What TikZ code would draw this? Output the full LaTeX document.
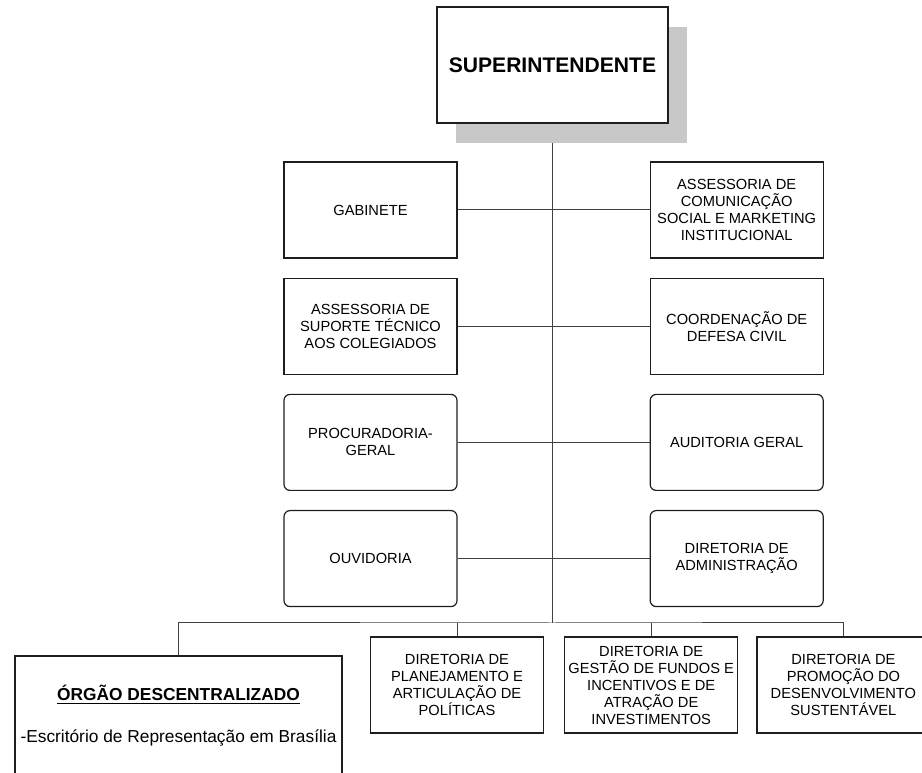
\documentclass[tikz,border=0pt]{standalone}
\usepackage{fontspec}
\setmainfont{Liberation Sans}
\usetikzlibrary{positioning, shadows, backgrounds}

\definecolor{boxline}{HTML}{1E1E1E}
\definecolor{linkline}{HTML}{404040}
\definecolor{shadowgray}{HTML}{C8C8C8}

\begin{document}
\begin{tikzpicture}
   [
      x=0.75pt, y=-0.75pt,
      % Style for the ordinary unit boxes: square corners, thin dark border
      unit/.style={rectangle, draw=boxline, line width=0.9pt, fill=white, minimum width=129.75pt, minimum height=72pt, inner sep=2pt, align=center, font=\fontsize{11}{12.75}\selectfont},
      % Same box, but with rounded corners
      unit round/.style={unit, rounded corners=4.5pt},
      % Style for the head box with its grey shadow
      head unit/.style={unit, minimum width=173.25pt, minimum height=87pt, font=\fontsize{15.8}{18}\selectfont\bfseries, drop shadow={shadow xshift=14.25pt, shadow yshift=-15pt, fill=shadowgray, opacity=1}},
      % Style for the decentralised office box
      office unit/.style={unit, minimum width=245.25pt, minimum height=90pt, font=\fontsize{13}{15.6}\selectfont},
      % Style for the connecting lines
      link/.style={draw=linkline, line width=0.75pt}
   ]

    \useasboundingbox (0,0) rectangle (922,773);
    \clip (0,0) rectangle (922,773);

    % =======================================================
    % Head of the chart
    % =======================================================
    \node[head unit] (sup) at (552.5,65) {SUPERINTENDENTE};

    % =======================================================
    % Advisory units, two columns
    % =======================================================
    \node[unit] (gab) at (370.5,210) {GABINETE};
    \node[unit, right=144pt of gab] (ascom) {ASSESSORIA DE\\COMUNICAÇÃO\\SOCIAL E MARKETING\\INSTITUCIONAL};

    \node[unit, below=14.25pt of gab] (astec) {ASSESSORIA DE\\SUPORTE TÉCNICO\\AOS COLEGIADOS};
    \node[unit, right=144pt of astec] (codec) {COORDENAÇÃO DE\\DEFESA CIVIL};

    \node[unit round, below=14.25pt of astec] (proc) {PROCURADORIA-\\GERAL};
    \node[unit round, right=144pt of proc] (audit) {AUDITORIA GERAL};

    \node[unit round, below=14.25pt of proc] (ouv) {OUVIDORIA};
    \node[unit round, right=144pt of ouv] (dirad) {DIRETORIA DE\\ADMINISTRAÇÃO};

    % =======================================================
    % Bottom row: office and directorates
    % =======================================================
    \node[office unit] (office) at (178.5,716) {\underline{\textbf{ÓRGÃO DESCENTRALIZADO}}\\[15.9pt]-Escritório de Representação em Brasília};
    \node[unit] (plan) at (457,685) {DIRETORIA DE\\PLANEJAMENTO E\\ARTICULAÇÃO DE\\POLÍTICAS};
    \node[unit, right=15pt of plan] (fund) {DIRETORIA DE\\GESTÃO DE FUNDOS E\\INCENTIVOS E DE\\ATRAÇÃO DE\\INVESTIMENTOS};
    \node[unit, right=13.5pt of fund] (promo) {DIRETORIA DE\\PROMOÇÃO DO\\DESENVOLVIMENTO\\SUSTENTÁVEL};

    % Point where the trunk meets the bottom bus
    \coordinate (bus) at (552.5,623);

    % =======================================================
    % Connectors (behind the boxes and the shadow)
    % =======================================================
    \begin{scope}[on background layer]
      \draw[link] (sup.south) -- (bus);
      \draw[link] (gab) -- (ascom);
      \draw[link] (astec) -- (codec);
      \draw[link] (proc) -- (audit);
      \draw[link] (ouv) -- (dirad);
      \draw[link] (office.north) |- (bus) -| (promo.north);
      \draw[link] (plan.north) -- (plan.north |- bus);
      \draw[link] (fund.north) -- (fund.north |- bus);
    \end{scope}

\end{tikzpicture}
\end{document}
